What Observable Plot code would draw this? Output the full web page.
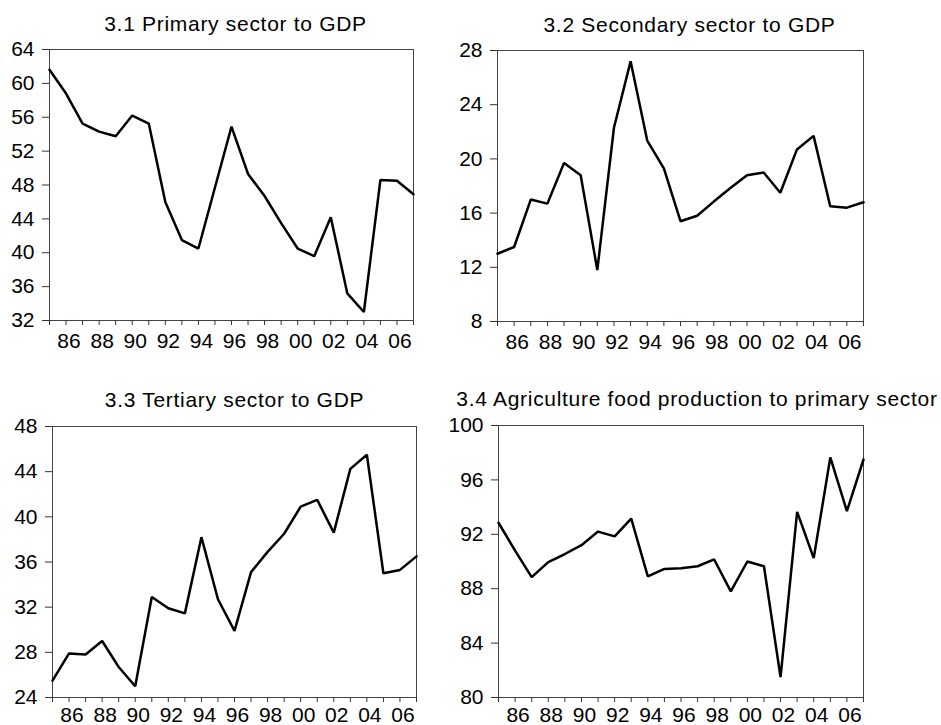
<!DOCTYPE html>
<html>
<head>
<meta charset="utf-8">
<script src="https://cdn.jsdelivr.net/npm/d3@7"></script>
<script src="https://cdn.jsdelivr.net/npm/@observablehq/plot@0.6"></script>
<style>
  html, body { margin: 0; padding: 0; background: white; }
  #wrap { position: relative; width: 941px; height: 725px; overflow: hidden; background: white; }
  #wrap > div, #wrap > svg { position: absolute; }
  #wrap svg g[aria-label="text"] text { letter-spacing: 0.7px; }
</style>
</head>
<body>
<div id="wrap"></div>
<script>
const years = [1985, 1986, 1987, 1988, 1989, 1990, 1991, 1992, 1993, 1994, 1995, 1996,
               1997, 1998, 1999, 2000, 2001, 2002, 2003, 2004, 2005, 2006, 2007];
const labelYears = [1986, 1988, 1990, 1992, 1994, 1996, 1998, 2000, 2002, 2004, 2006];

const titles = [
  "3.1 Primary sector to GDP",
  "3.2 Secondary sector to GDP",
  "3.3 Tertiary sector to GDP",
  "3.4 Agriculture food production to primary sector"
];

const primary = [61.6, 58.8, 55.25, 54.3, 53.75, 56.2, 55.25, 46.0, 41.5, 40.5, 47.7, 54.9,
                 49.3, 46.7, 43.5, 40.5, 39.6, 44.2, 35.2, 33.0, 48.6, 48.5, 46.9];
const secondary = [13.0, 13.5, 17.0, 16.7, 19.7, 18.8, 11.8, 22.3, 27.2, 21.35, 19.3, 15.4,
                   15.8, 16.85, 17.85, 18.8, 19.0, 17.5, 20.7, 21.7, 16.5, 16.4, 16.8];
const tertiary = [25.5, 27.9, 27.8, 29.0, 26.7, 25.0, 32.9, 31.9, 31.45, 38.2, 32.7, 29.9,
                  35.1, 36.9, 38.5, 40.9, 41.5, 38.6, 44.25, 45.5, 35.0, 35.3, 36.5];
const agriculture = [92.85, 90.8, 88.85, 89.95, 90.55, 91.2, 92.2, 91.85, 93.15, 88.9, 89.45, 89.5,
                     89.65, 90.15, 87.8, 90.0, 89.65, 81.5, 93.65, 90.25, 97.65, 93.7, 97.5];

const yTicks1 = [32, 36, 40, 44, 48, 52, 56, 60, 64];
const yTicks2 = [8, 12, 16, 20, 24, 28];
const yTicks3 = [24, 28, 32, 36, 40, 44, 48];
const yTicks4 = [80, 84, 88, 92, 96, 100];

const FONT = "'Liberation Sans', Arial, Helvetica, sans-serif";
const FS = 21;

function panel(cfg) {
  const rows = years.map((y, i) => ({year: y, value: cfg.data[i]}));
  const p = Plot.plot({
    width: cfg.width,
    height: cfg.height,
    marginTop: cfg.mt,
    marginBottom: cfg.mb,
    marginLeft: cfg.ml,
    marginRight: cfg.mr,
    x: {domain: [1985, 2007], label: null},
    y: {domain: cfg.yDomain, label: null},
    style: {fontFamily: FONT, fontSize: FS + "px", color: "black", background: "white", overflow: "visible"},
    marks: [
      Plot.frame({stroke: "#444", strokeWidth: 1}),
      Plot.axisX({ticks: years, tickSize: 5, tickFormat: () => "", label: null, stroke: "#333"}),
      Plot.axisX({ticks: labelYears, tickSize: 0, tickPadding: cfg.xPad, dx: 3, label: null,
                  fontSize: FS, fill: "black",
                  tickFormat: d => String(d % 100).padStart(2, "0")}),
      Plot.axisY({ticks: cfg.yTicks, tickSize: 7, tickPadding: 8, label: null,
                  fontSize: FS, fill: "black", stroke: "#333", tickFormat: d => String(d)}),
      Plot.line(rows, {x: "year", y: "value", stroke: "black", strokeWidth: 2.5, strokeLinejoin: "miter"}),
      Plot.text([cfg.title], {frameAnchor: "top", lineAnchor: "bottom", dy: cfg.titleDy, dx: cfg.titleDx,
                              fontSize: FS, fill: "black", text: d => d})
    ]
  });
  p.style.left = cfg.left + "px";
  p.style.top = cfg.top + "px";
  document.getElementById("wrap").appendChild(p);
}

panel({data: primary, title: titles[0], yDomain: [32, 64], yTicks: yTicks1, xPad: 13,
       left: 0, top: 0, width: 420, height: 362, mt: 49, mb: 42, ml: 49, mr: 7, titleDx: 4, titleDy: -19});
panel({data: secondary, title: titles[1], yDomain: [8, 28], yTicks: yTicks2, xPad: 13,
       left: 420, top: 0, width: 521, height: 362, mt: 50, mb: 41, ml: 77, mr: 78, titleDx: 9, titleDy: -19});
panel({data: tertiary, title: titles[2], yDomain: [24, 48], yTicks: yTicks3, xPad: 10,
       left: 0, top: 362, width: 420, height: 363, mt: 64, mb: 28, ml: 52, mr: 4, titleDx: 0, titleDy: -20});
panel({data: agriculture, title: titles[3], yDomain: [80, 100], yTicks: yTicks4, xPad: 10,
       left: 420, top: 362, width: 521, height: 363, mt: 63, mb: 28, ml: 78, mr: 78, titleDx: 16, titleDy: -20});
</script>
</body>
</html>
